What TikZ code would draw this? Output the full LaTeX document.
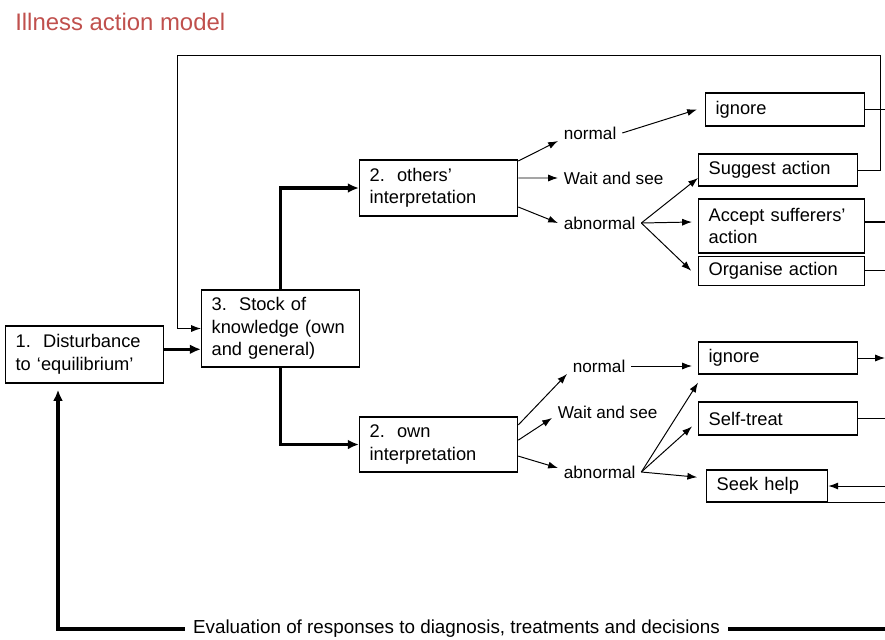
\documentclass[tikz,border=0pt]{standalone}
\usepackage{fontspec}
\setmainfont{Liberation Sans}
\usepackage{tikz}
\usetikzlibrary{arrows.meta,positioning}
\usepackage{xcolor}
\definecolor{iamred}{RGB}{192,80,77}
\tikzstyle{stage} = [rectangle, draw, line width=0.9pt, inner xsep=0.25cm, inner ysep=0pt, align=left, anchor=west, font=\fontsize{13}{16}\selectfont]
\tikzstyle{reply} = [anchor=west, inner xsep=4pt, inner ysep=1pt, font=\fontsize{12.2}{14}\selectfont]
\tikzstyle{arrow} = [line width=0.7pt,->,>={Latex[length=7pt,width=5pt]}]
\tikzstyle{flow} = [line width=2.3pt,->,>={Latex[length=8pt,width=7pt]}]
\tikzstyle{link} = [line width=0.8pt]

\begin{document}
\begin{tikzpicture}[x=0.025cm, y=-0.025cm]
\useasboundingbox (0,0) rectangle (885,639);

% Title
\node[anchor=west, inner sep=0pt, text=iamred, font=\fontsize{17}{20}\selectfont] (title) at (15,22) {Illness action model};

% Main stages
\node[stage, text width=3.45cm, minimum height=1.425cm] (dist) at (5,354.5) {1.\ \ Disturbance\\to ‘equilibrium’};
\node[stage, text width=3.45cm, minimum height=1.925cm] (stock) at (201,328.5) {3.\ \ Stock of\\knowledge (own\\and general)};
\node[stage, text width=3.45cm, minimum height=1.4cm] (others) at (359,188) {2.\ \ others’\\interpretation};
\node[stage, text width=3.45cm, minimum height=1.375cm] (own) at (359,444.5) {2.\ \ own\\interpretation};

% Responses (others)
\node[stage, text width=3.475cm, minimum height=0.825cm] (ignore1) at (705,109.5) {ignore};
\node[stage, text width=3.475cm, minimum height=0.8cm] (suggest) at (698,170) {Suggest action};
\node[stage, text width=3.65cm, minimum height=1.35cm] (accept) at (698,226) {Accept sufferers’\\action};
\node[stage, text width=3.65cm, minimum height=0.725cm, below=0.05cm of accept.south west, anchor=north west] (organise) {Organise action};

% Responses (own)
\node[stage, text width=3.475cm, minimum height=0.8cm] (ignore2) at (698,358) {ignore};
\node[stage, text width=3.475cm, minimum height=0.825cm] (selftreat) at (698,418.5) {Self-treat};
\node[stage, text width=2.525cm, minimum height=0.8cm] (seekhelp) at (706,486) {Seek help};

% Labels
\node[reply] (norm1) at (558,133) {normal};
\node[reply] (wait1) at (558,178) {Wait and see};
\node[reply] (abn1) at (558,223) {abnormal};
\node[reply] (norm2) at (567,366) {normal};
\node[reply] (wait2) at (552,412) {Wait and see};
\node[reply] (abn2) at (558,472) {abnormal};

\coordinate (rim) at (885,0);
\coordinate (loop) at (880,55);
\coordinate (evalend) at (885,629);
\coordinate (distout) at ([yshift=0.13cm]dist.east);

% Thick flow
\draw[flow] (distout) -- (distout -| stock.west);
\draw[flow] (stock.north) |- (others.west);
\draw[flow] (stock.south) |- (own.west);
\draw[flow, shorten >=0.15cm] (evalend) -| ([xshift=1.325cm]dist.south west);
\node[fill=white, inner xsep=6pt, font=\fontsize{13.4}{16}\selectfont] (eval) at (456.5,629) {Evaluation of responses to diagnosis, treatments and decisions};

% Others' branch
\draw[arrow] ([yshift=0.675cm]others.east) -- (norm1.south west);
\draw[arrow] ([yshift=0.25cm]others.east) -- (wait1.west);
\draw[arrow] ([yshift=-0.475cm]others.east) -- (abn1.west);
\draw[arrow] (norm1.east) -- ([xshift=-0.2cm]ignore1.west);
\draw[arrow] (abn1.east) -- ([yshift=-0.2cm]suggest.west);
\draw[arrow] (abn1.east) -- ([xshift=-0.15cm,yshift=0.1cm]accept.west);
\draw[arrow] (abn1.east) -- ([xshift=-0.17cm]organise.west);

% Own branch
\draw[arrow] ([yshift=0.49cm]own.east) -- (norm2.south west);
\draw[arrow] ([yshift=0.11cm]own.east) -- ([yshift=-0.15cm]wait2.west);
\draw[arrow] ([yshift=-0.29cm]own.east) -- ([yshift=0.1cm]abn2.west);
\draw[arrow, shorten >=0.15cm] (norm2.east) -- (norm2.east -| ignore2.west);
\draw[arrow] (abn2.east) -- ([yshift=-0.2cm]ignore2.south west);
\draw[arrow] (abn2.east) -- ([xshift=-0.15cm,yshift=-0.2cm]selftreat.west);
\draw[arrow] (abn2.east) -- ([xshift=-0.22cm,yshift=0.22cm]seekhelp.west);

% Right-hand ends
\draw[link] (ignore1.east) -- (ignore1.east -| rim);
\draw[arrow] (suggest.east) -| (loop) -| ([xshift=-0.6cm]stock.west) -- (stock.west);
\draw[link] ([yshift=0.1cm]accept.east) -- ([yshift=0.1cm]accept.east -| rim);
\draw[link] (organise.east) -- (organise.east -| rim);
\draw[arrow] (ignore2.east) -- (ignore2.east -| rim);
\draw[link] (selftreat.east) -- (selftreat.east -| rim);
\draw[arrow] (seekhelp.east -| rim) -- (seekhelp.east);
\draw[link] (seekhelp.south east) -- (seekhelp.south east -| rim);
\end{tikzpicture}
\end{document}
